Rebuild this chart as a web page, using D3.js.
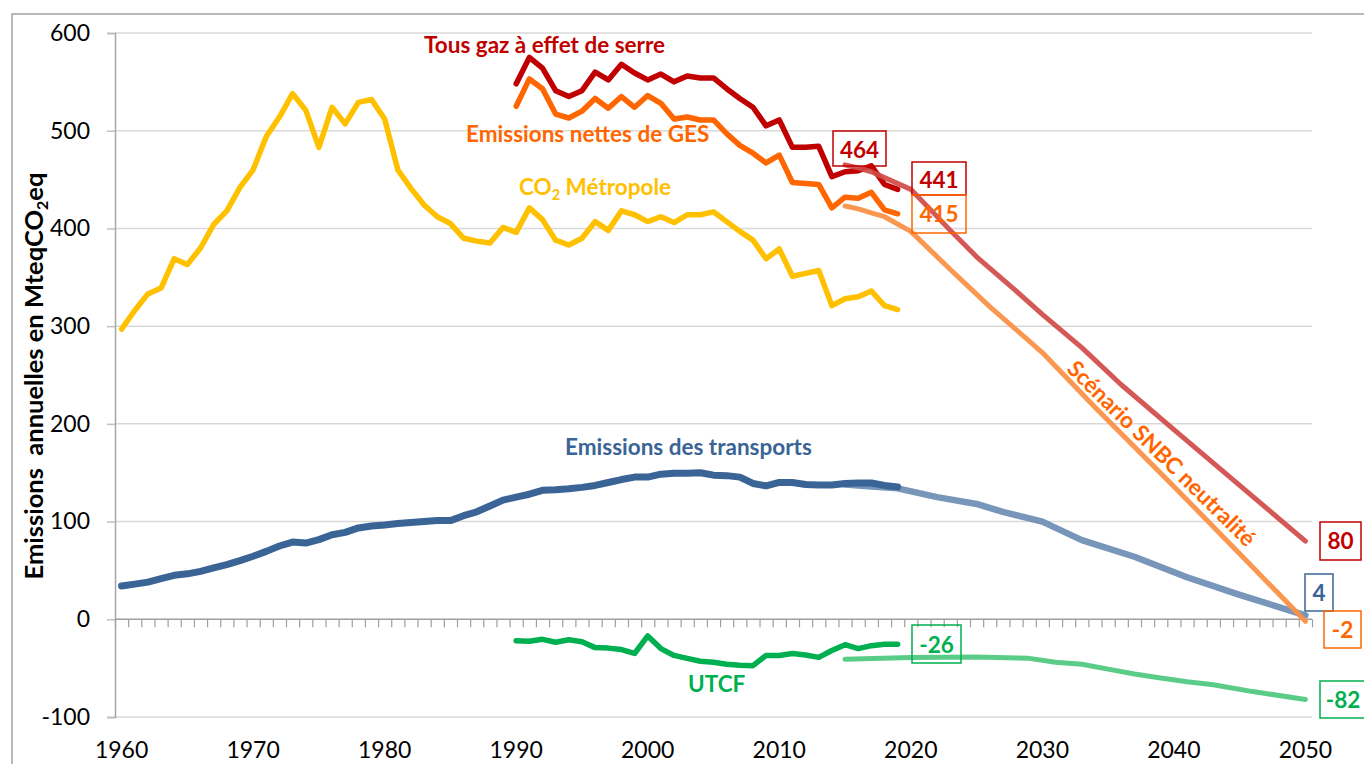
<!DOCTYPE html>
<html><head><meta charset="utf-8">
<script src="https://cdn.jsdelivr.net/npm/d3@7"></script>
<style>
body{margin:0;background:#fff}
svg{display:block}
text{font-family:Lato,'Open Sans',sans-serif}
</style>
</head><body>
<svg id="c" width="1364" height="764"></svg>
<script>
// ---------------- DATA ----------------
const yTickValues = [-100, 0, 100, 200, 300, 400, 500, 600];
const xLabelYears = [1960, 1970, 1980, 1990, 2000, 2010, 2020, 2030, 2040, 2050];
const allYears = d3.range(1960, 2051);

const co2Years = d3.range(1960, 2020);
const co2Metropole = [297,316,333,339,369,363,380,404,418,442,460,494,514,538,521,483,524,507,529,532,
  512,460,441,424,412,405,390,387,385,401,396,421,409,388,383,390,407,398,418,414,
  407,412,406,414,414,417,407,397,388,369,379,351,354,357,321,328,330,336,321,317];
const transports = [34,36,38,41.5,45,46.5,49,52.5,56,60,64.5,69.5,75,79,78,81.5,86.5,89,93.5,95.5,
  96.5,98,99,100,101,101,106,110,116,122,125,128,132,132.5,133.5,135,137,140,143,145.5,
  145.5,148.5,149.5,149.5,150,147.5,147,145.5,139,136.5,140,140,138,137.5,137.5,139,139.5,139.5,137,135.5];

const gesYears = d3.range(1990, 2020);
const tousGaz = [548,575,564,541,535,541,560,552,568,559,552,558,550,556,554,554,543,533,524,505,
  511,483,483,484,453,458,459,464,445,440];
const emissionsNettes = [525,553,543,517,513,520,533,523,535,524,536,528,512,514,511,511,497,485,477,467,
  475,447,446,445,421,432,431,437,419,415];
const utcf = [-22,-22.5,-20.5,-23.5,-21,-23,-29,-29.5,-31,-35,-17,-30,-37,-40,-43,-44,-46,-47,-47.5,-37,
  -37,-35,-36.5,-39,-32,-26,-30,-27,-25.5,-25.5];

const snbcGesYears = [2015,2016,2017,2018,2020,2023,2025,2028,2030,2033,2036,2040,2045,2050];
const snbcGes      = [465,462,458,452,440,398,371,336,312,278,240,194,137,80];
const snbcNettesYears = [2015,2016,2017,2018,2020,2023,2026,2030,2034,2040,2045,2050];
const snbcNettes      = [423,420,416,412,397,358,320,273,217,136,67,-2];
const snbcTranspYears = [2015,2017,2019,2022,2025,2027,2030,2033,2037,2041,2045,2050];
const snbcTransp      = [138,136,134,125,118,110,100,81,64,43,25,4];
const snbcUtcfYears = [2015,2020,2025,2029,2031,2033,2035,2037,2039,2041,2043,2046,2050];
const snbcUtcf      = [-41,-39,-38.5,-40,-44,-46,-51,-56,-60,-64,-67,-74,-82];

const seriesLabels = ["Tous gaz à effet de serre", "Emissions nettes de GES", "Métropole",
  "Emissions des transports", "UTCF", "Scénario SNBC neutralité"];
const valueLabels = ["464", "441", "415", "80", "4", "-2", "-26", "-82"];
const yAxisTitle = ["Emissions  annuelles en MteqCO", "2", "eq"];

// ---------------- LAYOUT ----------------
const svg = d3.select("#c");
const L = 115, R = 1312, T = 33, B = 717;
const x = d3.scaleLinear().domain([1959.5, 2050.5]).range([L, R]);
const y = d3.scaleLinear().domain([-100, 600]).range([B, T]);

const C = {
  red: "#C00000", orange: "#FF6600", yellow: "#FFC000", blue: "#3A6496", green: "#00B050",
  redS: "#D04A48", orangeS: "#FA9148", blueS: "#7090B6", greenS: "#52C982"
};

// outer frame
svg.append("rect").attr("x", 12).attr("y", 14).attr("width", 1400).attr("height", 800)
  .attr("fill", "none").attr("stroke", "#a3a3a3").attr("stroke-width", 1.5);

// gridlines
svg.append("g").selectAll("line").data(yTickValues.filter(v => v !== 0)).join("line")
  .attr("x1", L).attr("x2", R).attr("y1", d => y(d)).attr("y2", d => y(d))
  .attr("stroke", "#d9d9d9").attr("stroke-width", 1.5);

// y axis
const yAxis = svg.append("g").attr("transform", `translate(${L},0)`)
  .call(d3.axisLeft(y).tickValues(yTickValues).tickSize(8).tickPadding(17).tickFormat(d => String(d)));
yAxis.select(".domain").attr("stroke", "#a6a6a6").attr("stroke-width", 1.5);
yAxis.selectAll(".tick line").attr("stroke", "#bfbfbf").attr("stroke-width", 1.5);
yAxis.selectAll("text").attr("font-size", 23).attr("fill", "#000").style("font-family", "Lato");

// x axis at zero with category boundary ticks
const xAxis = svg.append("g").attr("transform", `translate(0,${y(0)})`)
  .call(d3.axisBottom(x).tickValues(allYears.map(d => d - 0.5).concat([2050.5])).tickSize(8).tickFormat(""));
xAxis.select(".domain").attr("stroke", "#9e9e9e").attr("stroke-width", 1.5)
  .attr("d", `M${L},0H${R}`);
xAxis.selectAll(".tick line").attr("stroke", "#9e9e9e").attr("stroke-width", 1.2);

// x labels
svg.append("g").selectAll("text").data(xLabelYears).join("text")
  .attr("x", d => x(d)).attr("y", 758).attr("text-anchor", "middle")
  .attr("font-size", 23).attr("fill", "#000").text(d => d);

// y title
const yt = svg.append("text").attr("transform", "translate(43,376) rotate(-90)")
  .attr("text-anchor", "middle").attr("font-size", 25.5).attr("font-weight", "bold").attr("fill", "#000")
  .style("white-space", "pre");
yt.append("tspan").text(yAxisTitle[0]);
yt.append("tspan").attr("font-size", 16).attr("dy", 5).text(yAxisTitle[1]);
yt.append("tspan").attr("dy", -5).text(yAxisTitle[2]);

// ---------------- LINES ----------------
const line = d3.line().x(d => x(d[0])).y(d => y(d[1]));
const zip = (xs, vs) => xs.map((k, i) => [k, vs[i]]);
function path(data, color, width, opacity) {
  svg.append("path").datum(data).attr("d", line).attr("fill", "none")
    .attr("stroke", color).attr("stroke-width", width).attr("stroke-opacity", opacity || 1)
    .attr("stroke-linejoin", "round").attr("stroke-linecap", "round");
}
// scenarios
path(zip(snbcTranspYears, snbcTransp), C.blueS, 6.5, 0.95);
path(zip(snbcUtcfYears, snbcUtcf), C.greenS, 5, 0.95);
// historical
path(zip(co2Years, co2Metropole), C.yellow, 5.5);
path(zip(co2Years, transports), C.blue, 7);
path(zip(gesYears, tousGaz), C.red, 5.5);
path(zip(gesYears, emissionsNettes), C.orange, 5.5);
path(zip(gesYears, utcf), C.green, 5.5);
path(zip(snbcNettesYears, snbcNettes), C.orangeS, 5, 0.95);
path(zip(snbcGesYears, snbcGes), C.redS, 5, 0.92);

// ---------------- VALUE BOXES ----------------
const boxLayout = [
  {x: 833, y: 131, w: 53, h: 35, c: C.red},
  {x: 912, y: 162, w: 54, h: 33, c: C.red},
  {x: 912, y: 195, w: 54, h: 38, c: C.orange},
  {x: 1320, y: 522, w: 41, h: 38, c: C.red},
  {x: 1305, y: 574, w: 28, h: 37, c: C.blue},
  {x: 1324, y: 611, w: 37, h: 37, c: C.orange},
  {x: 912, y: 625, w: 49, h: 38, c: C.green},
  {x: 1320, y: 681, w: 52, h: 37, c: C.green}
];
const boxBase = [158, 188, 222, 549, 601, 638, 653, 708];
const boxG = svg.append("g");
boxLayout.forEach((b, i) => {
  boxG.append("rect").attr("x", b.x).attr("y", b.y).attr("width", b.w).attr("height", b.h)
    .attr("fill", "none").attr("stroke", b.c).attr("stroke-width", 1.5);
  boxG.append("text").attr("x", b.x + b.w / 2 + (i === 7 ? -3 : 0)).attr("y", boxBase[i])
    .attr("text-anchor", "middle").attr("font-size", 22.5).attr("font-weight", "bold")
    .attr("fill", b.c).text(valueLabels[i]);
});

// ---------------- SERIES LABELS ----------------
function label(txt, px, py, color) {
  return svg.append("text").attr("x", px).attr("y", py).attr("font-size", 22.5)
    .attr("font-weight", "bold").attr("fill", color).text(txt);
}
label(seriesLabels[0], 424, 53, C.red);
label(seriesLabels[1], 466, 142, C.orange);
const co2t = svg.append("text").attr("x", 519).attr("y", 195).attr("font-size", 22.5)
  .attr("font-weight", "bold").attr("fill", C.yellow);
co2t.append("tspan").text("CO");
co2t.append("tspan").attr("font-size", 14.5).attr("dy", 5).text("2");
co2t.append("tspan").attr("dy", -5).text(" " + seriesLabels[2]);
label(seriesLabels[3], 565, 455, C.blue);
label(seriesLabels[4], 688, 692, C.green);
svg.append("text").attr("transform", "translate(1162,453) rotate(44.5)")
  .attr("text-anchor", "middle").attr("dominant-baseline", "central")
  .attr("font-size", 22.5).attr("font-weight", "bold").attr("fill", C.orange).text(seriesLabels[5]);
</script>
</body></html>
